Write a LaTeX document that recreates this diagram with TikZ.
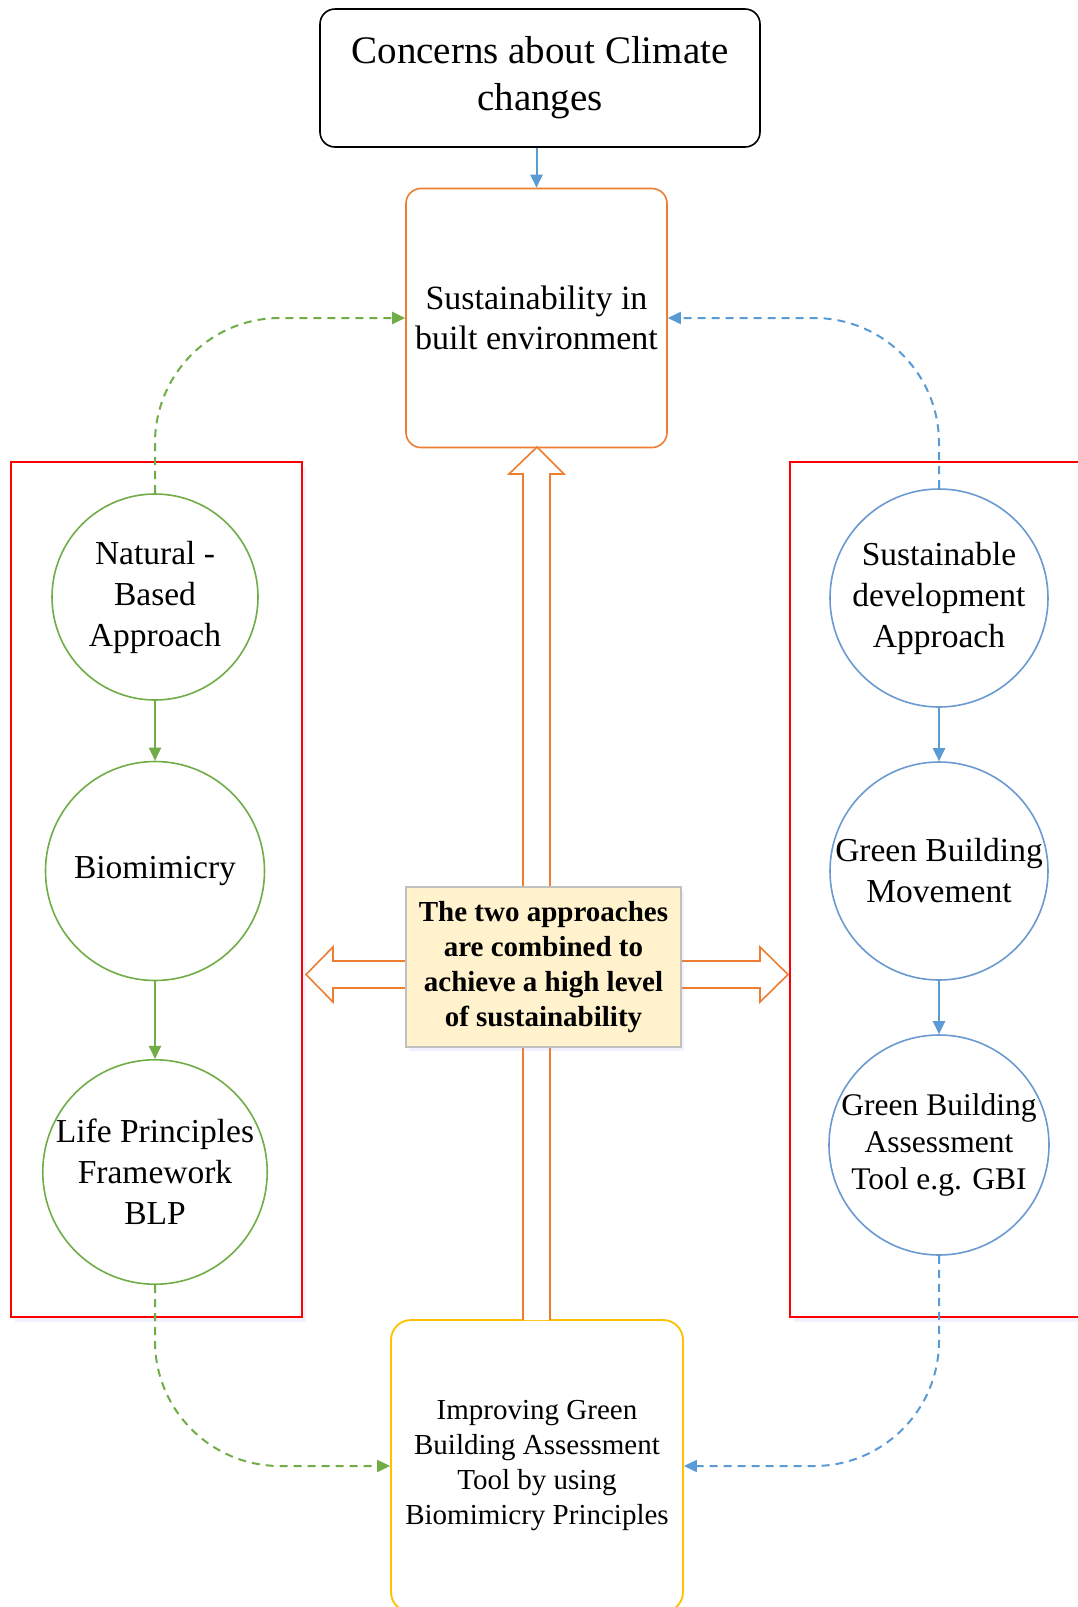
\documentclass[tikz,border=0pt]{standalone}
\usepackage{fontspec}
\setmainfont{Liberation Serif}
\usetikzlibrary{arrows.meta,shadows}
\definecolor{cgreen}{HTML}{70AD47}
\definecolor{cblue}{HTML}{5B9BD5}
\definecolor{ccirc}{HTML}{6A9AD0}
\definecolor{corange}{HTML}{ED7D31}
\definecolor{cyellow}{HTML}{FFC000}
\definecolor{cnote}{HTML}{FFF2CC}
\definecolor{cnoteb}{HTML}{C0C0C0}
\tikzset{
  tip/.style={-{Triangle[length=13pt,width=12pt]}},
  gcirc/.style={circle,draw=cgreen,line width=1.6pt,inner sep=0pt,align=center,font=\fontsize{33.5}{41}\selectfont},
  bcirc/.style={circle,draw=ccirc,line width=1.6pt,inner sep=0pt,align=center,font=\fontsize{33.5}{41}\selectfont},
  redbox/.style={draw=red,line width=2pt,fill=white,drop shadow={opacity=0.12,shadow xshift=4pt,shadow yshift=-5pt,fill=blue!40}},
  hollow/.style={draw=corange,line width=1.6pt,fill=white,line join=miter},
  gline/.style={draw=cgreen,line width=2pt,tip},
  bline/.style={draw=cblue,line width=2pt,tip},
  gdash/.style={draw=cgreen,line width=2pt,dash pattern=on 8pt off 6pt,tip,rounded corners=125pt},
  bdash/.style={draw=cblue,line width=2pt,dash pattern=on 8pt off 6pt,tip,rounded corners=125pt},
}
\begin{document}
\begin{tikzpicture}[x=1pt,y=-1pt]
\useasboundingbox (0,0) rectangle (1078,1607);
\fill[white] (0,0) rectangle (1078,1607);

% red frames
\path[redbox] (11,462) rectangle (302,1317);
\path[redbox] (790,462) rectangle (1100,1317);

% top box
\node (top) [draw=black,line width=1.6pt,rounded corners=15pt,minimum width=440pt,minimum height=138pt,align=center,font=\fontsize{39}{47}\selectfont] at (540,78) {Concerns about Climate\\changes};

% sustainability box
\node (sus) [draw=corange,line width=1.6pt,rounded corners=15pt,minimum width=261pt,minimum height=259pt,align=center,font=\fontsize{34}{40}\selectfont] at (536.5,318) {Sustainability in\\built environment};

% bottom box
\node (bot) [draw=cyellow,line width=1.8pt,rounded corners=20pt,minimum width=292pt,minimum height=292pt,align=center,font=\fontsize{29}{35}\selectfont] at (537,1466) {Improving Green\\Building Assessment\\Tool by using\\Biomimicry Principles};

% hollow arrows
\path[hollow] (523,1320) -- (523,474) -- (509,474) -- (537,447) -- (564,474) -- (550,474) -- (550,1320);
\path[hollow] (406,961) -- (333,961) -- (333,947) -- (306,974.5) -- (333,1002) -- (333,988) -- (406,988);
\path[hollow] (681,961) -- (760,961) -- (760,947) -- (788,974.5) -- (760,1002) -- (760,988) -- (681,988);

% center note
\node (note) [draw=cnoteb,line width=1.4pt,fill=cnote,minimum width=275pt,minimum height=160pt,align=center,font=\bfseries\fontsize{29}{35}\selectfont,drop shadow={opacity=0.12,shadow xshift=3pt,shadow yshift=-4pt,fill=blue!40}] at (543.5,967) {The two approaches\\are combined to\\achieve a high level\\of sustainability};

% left circles
\node (nat) [gcirc,minimum size=206pt] at (155,597) {Natural -\\Based\\Approach};
\node (bio) [gcirc,minimum size=219pt] at (155,871) {Biomimicry};
\node (lpf) [gcirc,minimum size=219pt] at (155,1172) {Life Principles\\Framework\\BLP};

% right circles
\node (sda) [bcirc,minimum size=218pt] at (939,598) {Sustainable\\development\\Approach};
\node (gbm) [bcirc,minimum size=218pt] at (939,871) {Green Building\\Movement};
\node (gba) [bcirc,minimum size=218pt,font=\fontsize{31.5}{37}\selectfont] at (939,1145) {Green Building\\Assessment\\Tool e.g. GBI};

% solid connectors
\draw[bline] (sus.north |- top.south) -- (sus.north);
\draw[gline] (nat.south) -- (bio.north);
\draw[gline] (bio.south) -- (lpf.north);
\draw[bline] (sda.south) -- (gbm.north);
\draw[bline] (gbm.south) -- (gba.north);

% dashed connectors
\draw[gdash] (nat.north) |- (sus.west);
\draw[bdash] (sda.north) |- (sus.east);
\draw[gdash] (lpf.south) |- (bot.west);
\draw[bdash] (gba.south) |- (bot.east);
\end{tikzpicture}
\end{document}
